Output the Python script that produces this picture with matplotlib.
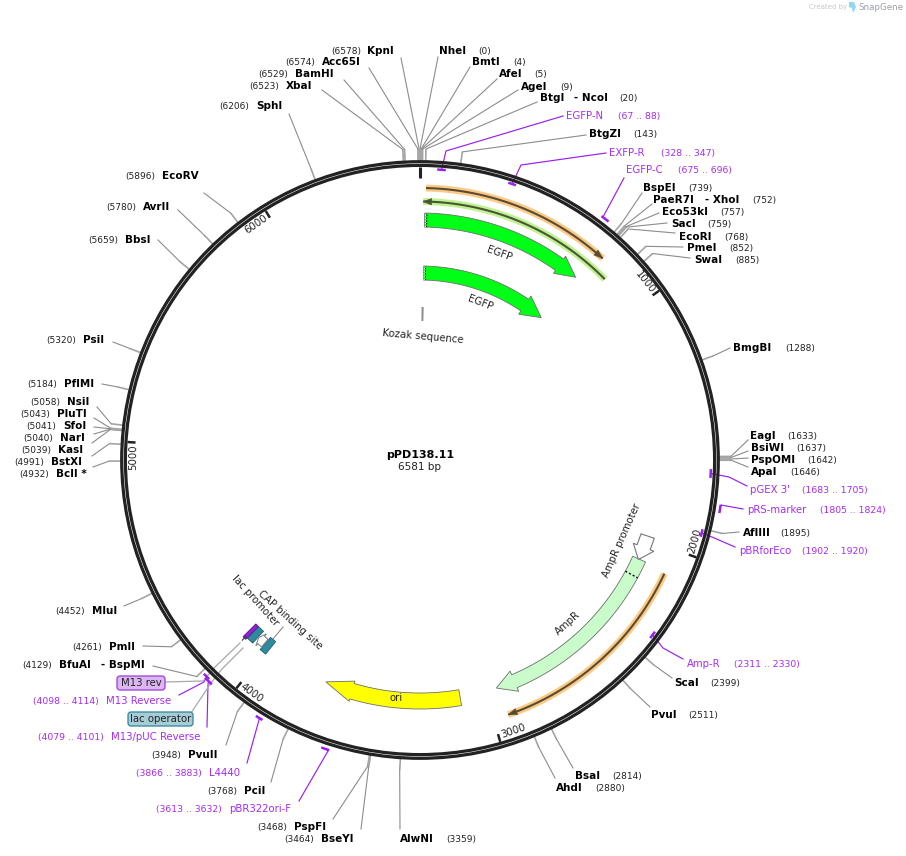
"""Plasmid map of pPD138.11, SnapGene style. Drawn in pixel coordinates."""
import numpy as np
import matplotlib
matplotlib.use("Agg")
import matplotlib.pyplot as plt
from matplotlib.patches import Circle, FancyBboxPatch

plasmid_name = "pPD138.11"
plasmid_len = 6581

# restriction sites
enzyme_names = ["NheI", "BmtI", "AfeI", "AgeI", "BtgI", "BtgZI", "BspEI", "PaeR7I", "Eco53kI",
                "SacI", "EcoRI", "PmeI", "SwaI", "BmgBI", "EagI", "BsiWI", "PspOMI", "ApaI",
                "AflIII", "ScaI", "PvuI", "BsaI", "AhdI", "AlwNI", "BseYI", "PspFI", "PciI",
                "PvuII", "BfuAI", "PmlI", "MluI", "BclI *", "BstXI", "KasI", "NarI", "SfoI",
                "PluTI", "NsiI", "PflMI", "PsiI", "BbsI", "AvrII", "EcoRV", "SphI", "XbaI",
                "BamHI", "Acc65I", "KpnI"]
enzyme_sites = [0, 4, 5, 9, 20, 143, 739, 752, 757, 759, 768, 852, 885, 1288, 1633, 1637, 1642,
                1646, 1895, 2399, 2511, 2814, 2880, 3359, 3464, 3468, 3768, 3948, 4129, 4261,
                4452, 4932, 4991, 5039, 5040, 5041, 5043, 5058, 5184, 5320, 5659, 5780, 5896,
                6206, 6523, 6529, 6574, 6578]
second_names = {"BtgI": "- NcoI", "PaeR7I": "- XhoI", "BfuAI": "- BspMI"}

# primers
primer_names = ["EGFP-N", "EXFP-R", "EGFP-C", "pGEX 3'", "pRS-marker", "pBRforEco", "Amp-R",
                "pBR322ori-F", "L4440", "M13/pUC Reverse", "M13 Reverse"]
primer_starts = [67, 328, 675, 1683, 1805, 1902, 2311, 3613, 3866, 4079, 4098]
primer_ends = [88, 347, 696, 1705, 1824, 1920, 2330, 3632, 3883, 4101, 4114]

# features drawn as arcs, (start, end) in bp
egfp_span = (20, 739)
ampr_span = (2090, 2952)
ampr_promoter_span = (1983, 2093)
ori_span = (3115, 3711)
kozak_span = (11, 25)
m13_rev_span = (4098, 4114)
lac_operator_span = (4066, 4096)
lac_promoter_span = (4027, 4063)
cap_span = (3994, 4024)
orange_top_span = (23, 771)
green_top_span = (13, 834)
orange_amp_span = (2101, 2941)
tick_positions = [1000, 2000, 3000, 4000, 5000, 6000]

# layout: name x, y, number x, leader end x, leader end y
enzyme_layout = {
    "NheI": (439, 51, 478, 438, 57), "BmtI": (472, 62, 513, 470, 67),
    "AfeI": (499, 74, 534, 497, 79), "AgeI": (521, 87, 560, 518, 90),
    "BtgI": (540, 98, 619, 537, 102), "BtgZI": (589, 134, 633, 586, 135),
    "BspEI": (643, 188, 688, 642, 193), "PaeR7I": (653, 200, 752, 652, 204),
    "Eco53kI": (662, 212, 720, 659, 213), "SacI": (671, 224, 707, 667, 223),
    "EcoRI": (679, 237, 724, 675, 233), "PmeI": (687, 248, 729, 683, 247),
    "SwaI": (694, 260, 735, 690, 258), "BmgBI": (733, 348, 785, 730, 348),
    "EagI": (750, 436, 787, 748, 440), "BsiWI": (751, 448, 796, 748, 451),
    "PspOMI": (751, 460, 807, 748, 458), "ApaI": (751, 472, 790, 748, 467),
    "AflIII": (743, 533, 780, 739, 532), "ScaI": (674, 683, 710, 672, 678),
    "PvuI": (651, 715, 688, 650, 707), "BsaI": (575, 776, 612, 573, 768),
    "AhdI": (556, 788, 595, 555, 778), "AlwNI": (400, 839, 446, 400, 829),
    "BseYI": (321, 839, 284, 361, 829), "PspFI": (294, 827, 257, 333, 819),
    "PciI": (244, 791, 207, 271, 782), "PvuII": (188, 755, 151, 226, 745),
    "BfuAI": (59, 665, 22, 153, 666), "PmlI": (109, 647, 72, 143, 646),
    "MluI": (92, 611, 55, 124, 606), "BclI *": (56, 474, 19, 93, 467),
    "BstXI": (51, 462, 14, 92, 456), "KasI": (58, 450, 21, 92, 443),
    "NarI": (60, 438, 23, 94, 434), "SfoI": (63, 426, 26, 94, 427),
    "PluTI": (57, 414, 20, 94, 418), "NsiI": (67, 402, 30, 97, 407),
    "PflMI": (64, 384, 27, 102, 384), "PsiI": (83, 340, 46, 113, 342),
    "BbsI": (125, 240, 88, 158, 240), "AvrII": (143, 207, 106, 178, 210),
    "EcoRV": (162, 176, 125, 204, 193), "SphI": (256, 106, 219, 289, 114),
    "XbaI": (286, 86, 249, 322, 90), "BamHI": (295, 74, 258, 344, 80),
    "Acc65I": (322, 62, 285, 369, 68), "KpnI": (367, 51, 331, 401, 58),
}
second_x = {"BtgI": 574, "PaeR7I": 705, "BfuAI": 101}

# layout: name x, y, number x, dash radius, elbow x, y, leader end x, y
primer_layout = {
    "EGFP-N": (566, 116, 618, 291, 446, 151, 563, 116),
    "EXFP-R": (609, 153, 661, 291, 521, 165, 606, 153),
    "EGFP-C": (626, 170, 678, 304, 603, 217, 624, 178),
    "pGEX 3'": (750, 490, 802, 291, 729, 477, 747, 486),
    "pRS-marker": (747, 510, 820, 304, 721, 505, 743, 509),
    "pBRforEco": (739, 551, 802, 291, 712, 537, 735, 547),
    "Amp-R": (687, 664, 734, 291, 663, 648, 683, 659),
    "pBR322ori-F": (229, 809, 156, 304, 328, 751, 299, 801),
    "L4440": (209, 773, 136, 304, 259, 720, 247, 763),
    "M13/pUC Reverse": (111, 737, 38, 306, 208, 685, 207, 727),
    "M13 Reverse": (106, 701, 33, 304, 204, 682, 179, 695),
}

CX, CY = 420, 460
BLACK = "#222222"
GRAY = "#8c8c8c"
PURPLE = "#a52cf2"
PURPLE_LINE = "#9a1ff0"
EDGE = "#6e6e6e"

plt.rcParams["font.family"] = "DejaVu Sans"
fig = plt.figure(figsize=(9.06, 8.56), dpi=100)
ax = fig.add_axes([0, 0, 1, 1])
ax.set_xlim(0, 906)
ax.set_ylim(856, 0)
ax.axis("off")


def pol(bp, r):
    a = np.asarray(bp) / plasmid_len * 2 * np.pi
    return CX + r * np.sin(a), CY - r * np.cos(a)


def arc_xy(b0, b1, r, n=80):
    return pol(np.linspace(b0, b1, n), r)


def arc_block(span, r0, r1, fc, ec=EDGE, z=3, lw=0.6):
    xa, ya = arc_xy(span[0], span[1], r1)
    xb, yb = arc_xy(span[1], span[0], r0)
    ax.fill(np.r_[xa, xb], np.r_[ya, yb], fc=fc, ec=ec, lw=lw, zorder=z)


def arc_arrow(tail, tip, head_base, r0, r1, half, fc, ec=EDGE, lw=0.6):
    """Shaft from tail to head_base, head from head_base to tip."""
    mid = (r0 + r1) / 2
    xa, ya = arc_xy(tail, head_base, r1)
    xb, yb = arc_xy(head_base, tail, r0)
    hx, hy = pol(head_base, mid + half)
    tx, ty = pol(tip, mid)
    lx, ly = pol(head_base, mid - half)
    xs = np.r_[xa, hx, tx, lx, xb]
    ys = np.r_[ya, hy, ty, ly, yb]
    ax.fill(xs, ys, fc=fc, ec=ec, lw=lw, zorder=3, joinstyle="miter")


def primer_arc(span, r, halo, dark, head_at_end=True):
    x, y = arc_xy(span[0], span[1], r)
    ax.plot(x, y, color=halo, lw=5, solid_capstyle="butt", zorder=3)
    ax.plot(x, y, color=dark, lw=1.5, solid_capstyle="butt", zorder=3.1)
    tip, back = (span[1], span[1] - 34) if head_at_end else (span[0], span[0] + 34)
    hx = [pol(back, r + 3.2)[0], pol(tip, r)[0], pol(back, r - 3.2)[0]]
    hy = [pol(back, r + 3.2)[1], pol(tip, r)[1], pol(back, r - 3.2)[1]]
    ax.fill(hx, hy, fc=dark, ec=dark, lw=0.4, zorder=3.2)


# leader lines of the sites
for name, site in zip(enzyme_names, enzyme_sites):
    nx, ny, numx, ex, ey = enzyme_layout[name]
    x0, y0 = pol(site, 299)
    x1, y1 = pol(site, 311)
    ax.plot([x0, x1], [y0, y1], color="#a4a4a4", lw=1.2, solid_capstyle="butt", zorder=1)
    ax.plot([x1, ex], [y1, ey], color=GRAY, lw=0.8, zorder=1)
    ax.text(nx, ny, name, fontsize=7.5, fontweight="bold", color="black",
            ha="left", va="center", zorder=5)
    if name in second_names:
        ax.text(second_x[name], ny, second_names[name], fontsize=7.5, fontweight="bold",
                color="black", ha="left", va="center", zorder=5)
    ax.text(numx, ny + 0.5, f"({site})", fontsize=6.5, color="#222222", ha="left",
            va="center", zorder=5)

# primers: dash at the ring plus a leader
for name, p0, p1 in zip(primer_names, primer_starts, primer_ends):
    nx, ny, numx, r, elx, ely, ex, ey = primer_layout[name]
    dx, dy = arc_xy(p0 - 5, p1 + 5, r, 12)
    ax.plot(dx, dy, color=PURPLE_LINE, lw=1.8, solid_capstyle="butt", zorder=3)
    mx, my = pol((p0 + p1) / 2, r)
    ax.plot([mx, elx, ex], [my, ely, ey], color=PURPLE_LINE, lw=0.85, zorder=1)
    ax.text(nx, ny, name, fontsize=7.3, color=PURPLE, ha="left", va="center", zorder=5)
    ax.text(numx, ny + 0.5, f"({p0} .. {p1})", fontsize=6.7, color=PURPLE, ha="left",
            va="center", zorder=5)

# the ring
ax.add_patch(Circle((CX, CY), 298.3, fc="none", ec=BLACK, lw=2.3, zorder=2))
ax.add_patch(Circle((CX, CY), 294.6, fc="none", ec=BLACK, lw=2.3, zorder=2))

# thousand ticks and their labels
x0, y0 = pol(0, 293)
x1, y1 = pol(0, 282)
ax.plot([x0, x1], [y0, y1], color=BLACK, lw=2.2, solid_capstyle="butt", zorder=3)
for tick in tick_positions:
    x0, y0 = pol(tick, 293)
    x1, y1 = pol(tick, 285)
    ax.plot([x0, x1], [y0, y1], color=BLACK, lw=1.8, solid_capstyle="butt", zorder=3)
    # label sits just before its tick, along the ring
    label_bp = tick - 55
    deg = label_bp / plasmid_len * 360
    rot = -deg if deg < 90 or deg > 270 else 180 - deg
    tx, ty = pol(label_bp, 287)
    ax.text(tx, ty, str(tick), fontsize=7.3, rotation=rot, rotation_mode="anchor",
            ha="center", va="center", color="#222222", zorder=5)

# primer binding arcs
primer_arc(orange_top_span, 272, "#fbcb85", "#5a4b33")
primer_arc(green_top_span, 258.5, "#bff38f", "#4a5636", head_at_end=False)
primer_arc(orange_amp_span, 269.5, "#fbcb85", "#5a4b33")

# EGFP copies
arc_arrow(egfp_span[0], egfp_span[1], 650, 233, 247, 10.5, "#00ff17")
arc_arrow(egfp_span[0], egfp_span[1], 623, 180, 194, 11, "#00ff17")
for rr0, rr1 in [(233, 247), (180, 194)]:
    x, y = pol(np.array([egfp_span[0] + 9, egfp_span[0] + 9]), np.array([rr0, rr1]))
    ax.plot(x, y, color="black", lw=0.9, ls=(0, (1, 1.2)), zorder=3.3)
    x, y = pol(np.array([egfp_span[0] + 4, egfp_span[0] + 4]), np.array([rr0, rr1]))
    ax.plot(x, y, color="white", lw=0.9, ls=(0, (1, 1.2)), zorder=3.3)

# AmpR and its promoter
arc_arrow(ampr_span[0], ampr_span[1], 2868, 233.5, 247.5, 11, "#c9fcca")
arc_arrow(ampr_promoter_span[0], ampr_promoter_span[1], 2035, 233, 247, 11, "white",
          ec="#777777", lw=0.8)
x, y = pol(np.array([2165, 2165]), np.array([233.5, 247.5]))
ax.plot(x, y, color="black", lw=1.0, ls=(0, (1.5, 1.5)), zorder=3.3)

# ori
arc_arrow(ori_span[0], ori_span[1], 3590, 233, 249, 10.5, "#ffff00")

# Kozak sequence
arc_block(kozak_span, 139, 153, "#8a8a8a", ec="none")

# lac region
arc_block(cap_span, 232, 248, "#2f8aa0", ec="#1d5f70")
arc_block(lac_operator_span, 232, 248, "#2f8aa0", ec="#1d5f70")
arc_block(m13_rev_span, 232, 250, "#8f22d6", ec="#5b1689")
arc_arrow(lac_promoter_span[0], lac_promoter_span[1], 4048, 235, 245, 8, "white",
          ec="#8a8a8a", lw=0.8)
x, y = pol(np.array([4106, 4106]), np.array([248, 253]))
ax.plot(x, y, color="#333333", lw=0.8, zorder=3)

# thin lines from the lac features through the ring
ax.plot([165, 203, 215, 240], [682, 681, 667, 643], color="#a8a8a8", lw=0.9, zorder=1)
ax.plot([191, 211, 222, 243], [713, 683, 669, 648], color="#a8a8a8", lw=0.9, zorder=1)
ax.plot([273, 283], [639, 627], color=GRAY, lw=0.8, zorder=1)

# tagged features
box = FancyBboxPatch((119, 678), 44, 10, boxstyle="round,pad=2,rounding_size=3",
                     fc="#dcb6f2", ec="#9a3fd0", lw=0.9, zorder=5)
ax.add_patch(box)
ax.text(141, 683.5, "M13 rev", fontsize=7.3, color="#222222", ha="center", va="center", zorder=6)
box = FancyBboxPatch((130, 714), 61, 10, boxstyle="round,pad=2,rounding_size=3",
                     fc="#a6ccd6", ec="#2f8499", lw=0.9, zorder=5)
ax.add_patch(box)
ax.text(160.5, 719.5, "lac operator", fontsize=7.3, color="#222222", ha="center", va="center", zorder=6)

# feature labels
feature_labels = ["EGFP", "EGFP", "Kozak sequence", "AmpR", "AmpR promoter", "ori",
                  "lac promoter", "CAP binding site"]
label_xy = [(499, 254), (480, 303), (423, 337), (568, 623), (622, 540), (396, 698),
            (255, 601), (290, 620)]
label_rot = [-20, -21, -5, 42, 66, 0, -48, -42]
for text, (lx, ly), rot in zip(feature_labels, label_xy, label_rot):
    ax.text(lx, ly, text, fontsize=7.3, color="#222222", rotation=rot, rotation_mode="anchor",
            ha="center", va="center", zorder=5)

# centre title
ax.text(420, 455, plasmid_name, fontsize=8, fontweight="bold", ha="center", va="center", color="black")
ax.text(420, 467, f"{plasmid_len} bp", fontsize=7.5, ha="center", va="center", color="#222222")

# watermark
ax.text(809, 7, "Created by", fontsize=5, color="#c8c8c8", ha="left", va="center")
ax.fill([849, 854, 856, 853, 852, 849], [2, 2, 7, 13, 8, 7], fc="#8fd8f5", ec="none")
ax.text(858, 7, "SnapGene", fontsize=6.3, color="#9aa1a8", ha="left", va="center")

fig.savefig("out.png", dpi=100)
plt.close(fig)
